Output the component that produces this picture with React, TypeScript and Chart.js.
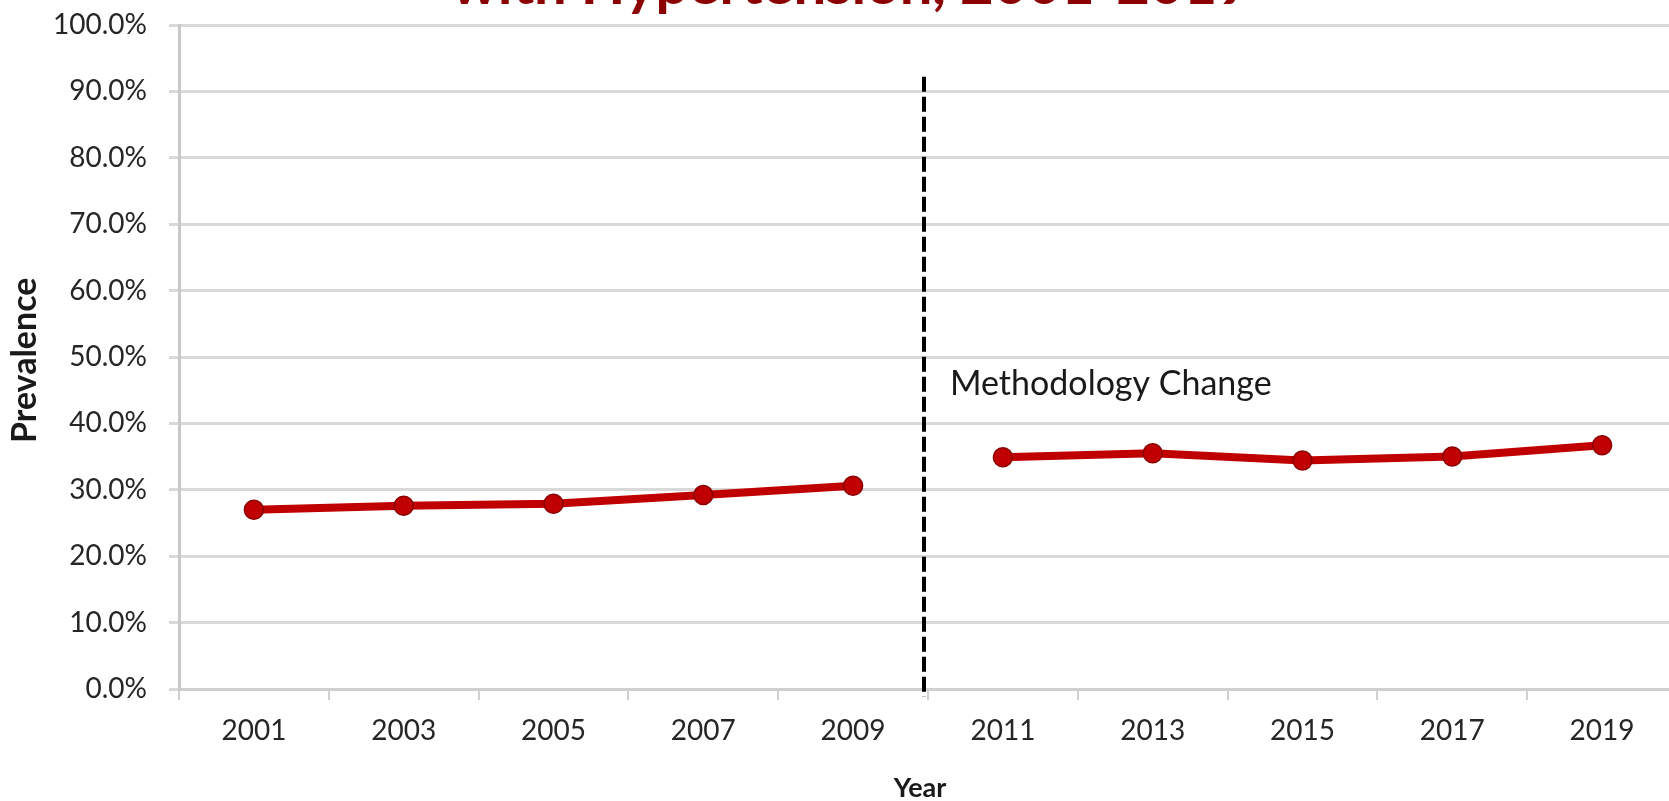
import React, { useEffect, useRef } from "react";
import { Chart, registerables } from "chart.js";

Chart.register(...registerables);

const years = ["2001", "2003", "2005", "2007", "2009", "2011", "2013", "2015", "2017", "2019"];
const prevalence = [27.0, 27.6, 27.9, 29.2, 30.6, 34.9, 35.5, 34.4, 35.0, 36.7];
const yTicks = [0, 10, 20, 30, 40, 50, 60, 70, 80, 90, 100];
const titleText = "with Hypertension, 2001-2019";
const yTitle = "Prevalence";
const xTitle = "Year";
const noteText = "Methodology Change";
const breakAfterIndex = 4; // methodology change between 2009 and 2011
const noteValue = 44.3;
const dashTopValue = 92.2;

const FONT = "Lato, 'Open Sans', sans-serif";
const CANVAS_W = 1688;
const CANVAS_H = 801;

const overlayPlugin = {
  id: "overlay",
  afterDraw(chart: any) {
    const { ctx, chartArea, scales } = chart;
    const x = scales.x;
    const y = scales.y;
    ctx.save();
    // dashed vertical line between 2009 and 2011
    const xBreak = (x.getPixelForValue(breakAfterIndex) + x.getPixelForValue(breakAfterIndex + 1)) / 2 - 4;
    ctx.strokeStyle = "#000000";
    ctx.lineWidth = 4;
    ctx.setLineDash([15, 5]);
    ctx.beginPath();
    ctx.moveTo(xBreak, y.getPixelForValue(dashTopValue));
    ctx.lineTo(xBreak, chartArea.bottom + 8);
    ctx.stroke();
    ctx.setLineDash([]);

    // annotation text
    ctx.fillStyle = "#1a1a1a";
    ctx.font = `34px ${FONT}`;
    ctx.textAlign = "left";
    ctx.textBaseline = "alphabetic";
    ctx.fillText(noteText, xBreak + 26, y.getPixelForValue(noteValue));

    // title (clipped at the top of the picture)
    ctx.fillStyle = "#8B0000";
    ctx.font = `bold 58px ${FONT}`;
    ctx.textAlign = "center";
    ctx.textBaseline = "alphabetic";
    ctx.fillText(titleText, 851, 4);

    // x axis title
    ctx.fillStyle = "#1a1a1a";
    ctx.font = `bold 27px ${FONT}`;
    ctx.textAlign = "center";
    ctx.textBaseline = "alphabetic";
    ctx.fillText(xTitle, (chartArea.left + chartArea.right) / 2 - 8, 797);

    // y axis title
    ctx.font = `bold 34px ${FONT}`;
    ctx.translate(36, y.getPixelForValue(49.5));
    ctx.rotate(-Math.PI / 2);
    ctx.textAlign = "center";
    ctx.textBaseline = "alphabetic";
    ctx.fillText(yTitle, 0, 0);
    ctx.restore();
  },
};

export default function App() {
  const ref = useRef<HTMLCanvasElement | null>(null);
  useEffect(() => {
    if (!ref.current) return;
    const chart = new Chart(ref.current, {
      type: "line",
      data: {
        labels: years,
        datasets: [
          {
            data: prevalence,
            borderColor: "#C00000",
            backgroundColor: "#C00000",
            borderWidth: 8,
            pointRadius: 9.5,
            pointBackgroundColor: "#C00000",
            pointBorderColor: "#8B0000",
            pointBorderWidth: 1.5,
            tension: 0,
            segment: {
              borderColor: (c: any) => (c.p0DataIndex === breakAfterIndex ? "rgba(0,0,0,0)" : "#C00000"),
            },
          },
        ],
      },
      options: {
        animation: false,
        responsive: false,
        maintainAspectRatio: false,
        devicePixelRatio: 1,
        layout: { padding: { top: 25, right: 0, left: 0, bottom: 0 } },
        plugins: { legend: { display: false }, tooltip: { enabled: false }, title: { display: false } },
        scales: {
          x: {
            offset: true,
            grid: {
              offset: true,
              drawOnChartArea: false,
              drawTicks: true,
              tickLength: 11,
              color: "#d0d0d0",
              lineWidth: 2,
            },
            border: { display: true, color: "#d0d0d0", width: 3 },
            ticks: {
              color: "#262626",
              font: { family: FONT, size: 28 },
              padding: 14,
              maxRotation: 0,
              autoSkip: false,
            },
            afterFit: (s: any) => {
              s.height = 112;
              s.paddingLeft = 0;
              s.paddingRight = 0;
            },
          },
          y: {
            min: 0,
            max: 100,
            afterBuildTicks: (s: any) => {
              s.ticks = yTicks.map((v) => ({ value: v }));
            },
            grid: {
              color: "#d9d9d9",
              lineWidth: 3,
              drawTicks: true,
              tickLength: 10,
            },
            border: { display: true, color: "#c8c8c8", width: 3 },
            ticks: {
              color: "#262626",
              font: { family: FONT, size: 28 },
              padding: 22,
              callback: (v: any) => Number(v).toFixed(1) + "%",
            },
            afterFit: (s: any) => {
              s.width = 179;
              s.paddingTop = 0;
              s.paddingBottom = 0;
            },
          },
        },
      },
      plugins: [overlayPlugin],
    });
    return () => chart.destroy();
  }, []);

  return (
    <div
      style={{
        position: "fixed",
        left: 0,
        top: 0,
        width: CANVAS_W,
        height: CANVAS_H,
        overflow: "hidden",
        background: "#ffffff",
      }}
    >
      <canvas
        ref={ref}
        width={CANVAS_W}
        height={CANVAS_H}
        style={{ display: "block", width: CANVAS_W, height: CANVAS_H }}
      />
    </div>
  );
}
